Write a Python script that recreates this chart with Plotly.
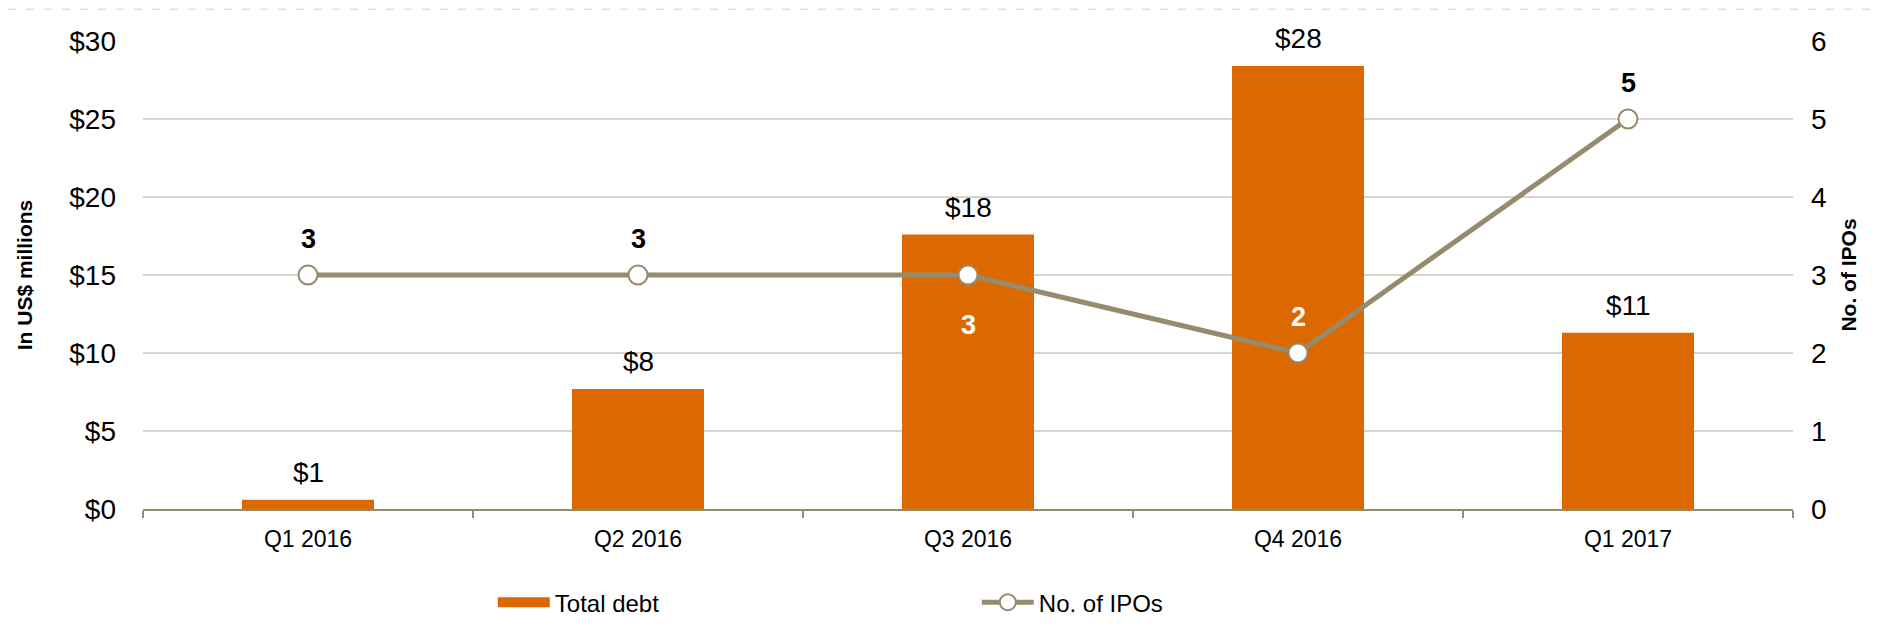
import plotly.graph_objects as go

categories = ["Q1 2016", "Q2 2016", "Q3 2016", "Q4 2016", "Q1 2017"]
total_debt = [0.6, 7.7, 17.6, 28.4, 11.3]
num_ipos = [3, 3, 3, 2, 5]
debt_labels = ["$" + str(round(v)) for v in total_debt]
ipo_label_pos = ["above", "above", "below", "above", "above"]
ipo_label_color = ["#000000", "#000000", "#FFFFFF", "#FFFFFF", "#000000"]
left_ticks = [0, 5, 10, 15, 20, 25, 30]
left_ticktext = ["$" + str(v) for v in left_ticks]
right_ticks = [0, 1, 2, 3, 4, 5, 6]

FONT = "Liberation Sans, Arial, sans-serif"
ORANGE = "#DC6900"
TAN = "#968B6C"
GRID = "#D7D4CA"

fig = go.Figure()
fig.add_trace(go.Bar(
    x=categories, y=total_debt, name="Total debt",
    marker=dict(color=ORANGE, line=dict(width=0)),
    width=0.4, yaxis="y", showlegend=False,
))
# legend entry for the bars, drawn as a wide swatch like the reference
fig.add_trace(go.Scatter(
    x=[None], y=[None], name="Total debt", mode="lines",
    line=dict(color=ORANGE, width=14), yaxis="y",
))
fig.add_trace(go.Scatter(
    x=categories, y=num_ipos, name="No. of IPOs", mode="lines+markers",
    line=dict(color=TAN, width=5),
    marker=dict(size=19, color="#FFFFFF", line=dict(color=TAN, width=2)),
    yaxis="y2",
))

annotations = []
for c, v, t in zip(categories, total_debt, debt_labels):
    annotations.append(dict(
        x=c, y=v, xref="x", yref="y", text=t, showarrow=False,
        yanchor="middle", yshift=27, font=dict(family=FONT, size=28, color="#000000"),
    ))
for c, v, pos, col in zip(categories, num_ipos, ipo_label_pos, ipo_label_color):
    annotations.append(dict(
        x=c, y=v, xref="x", yref="y2", text="<b>" + str(v) + "</b>", showarrow=False,
        yanchor="middle", yshift=(36 if pos == "above" else -50),
        font=dict(family=FONT, size=27, color=col),
    ))

fig.update_layout(
    width=1873, height=614,
    margin=dict(l=135, r=88, t=33, b=113, autoexpand=False),
    paper_bgcolor="#FFFFFF", plot_bgcolor="#FFFFFF",
    font=dict(family=FONT, color="#000000"),
    showlegend=True,
    legend=dict(
        orientation="h", x=0.212, y=-0.2, xanchor="left", yanchor="middle",
        font=dict(family=FONT, size=24, color="#000000"),
        entrywidth=417, entrywidthmode="pixels", itemwidth=52,
        traceorder="normal",
    ),
    xaxis=dict(
        type="category", range=[-0.5, 4.5],
        showline=True, linecolor=TAN, linewidth=2,
        ticks="outside", tickson="boundaries", ticklen=7, tickcolor=TAN, tickwidth=2,
        ticklabelstandoff=8,
        tickfont=dict(family=FONT, size=23, color="#000000"),
        showgrid=False, zeroline=False,
    ),
    yaxis=dict(
        range=[0, 30], tickvals=left_ticks, ticktext=left_ticktext,
        showgrid=True, gridcolor=GRID, gridwidth=2, zeroline=False, showline=False,
        ticks="", ticklabelstandoff=26,
        tickfont=dict(family=FONT, size=28, color="#000000"),
        title=dict(text="<b>In US$ millions</b>", standoff=30,
                   font=dict(family=FONT, size=21, color="#000000")),
    ),
    yaxis2=dict(
        range=[0, 6], tickvals=right_ticks, overlaying="y", side="right",
        showgrid=False, zeroline=False, showline=False, ticks="",
        ticklabelstandoff=17,
        tickfont=dict(family=FONT, size=28, color="#000000"),
        title=dict(text="<b>No. of IPOs</b>", standoff=15,
                   font=dict(family=FONT, size=21, color="#000000")),
    ),
    annotations=annotations,
    shapes=[dict(type="line", xref="paper", yref="paper",
                 x0=-0.082, x1=1.047, y0=1.068, y1=1.068,
                 line=dict(color="#D8D2C2", width=1, dash="dash"))],
)

fig.write_html("out.html")
